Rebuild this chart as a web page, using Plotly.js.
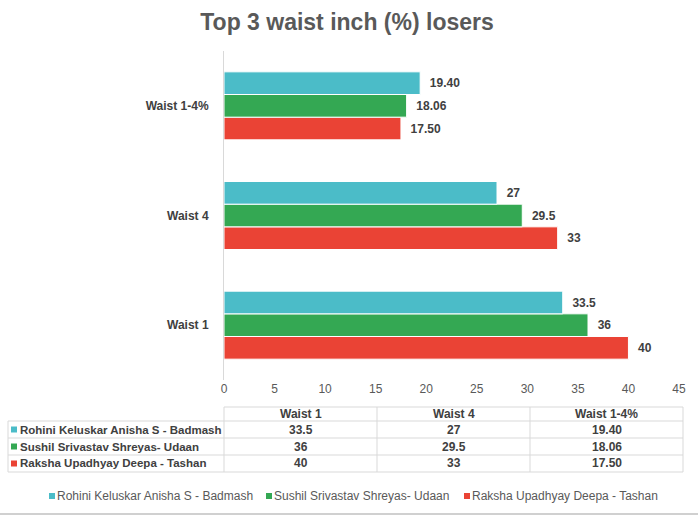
<!DOCTYPE html>
<html>
<head>
<meta charset="utf-8">
<script src="https://cdn.plot.ly/plotly-3.0.1.min.js"></script>
<style>html,body{margin:0;padding:0;background:#fff;}#chart{width:698px;height:517px;}</style>
</head>
<body>
<div id="chart"></div>
<script>
// ---- data ----
var categories = ['Waist 1', 'Waist 4', 'Waist 1-4%'];
var seriesNames = ['Rohini Keluskar Anisha S - Badmash', 'Sushil Srivastav Shreyas- Udaan', 'Raksha Upadhyay Deepa - Tashan'];
var rohini = [33.5, 27, 19.40];
var sushil = [36, 29.5, 18.06];
var raksha = [40, 33, 17.50];
var rohiniLabels = ['33.5', '27', '19.40'];
var sushilLabels = ['36', '29.5', '18.06'];
var rakshaLabels = ['40', '33', '17.50'];
var xTicks = [0, 5, 10, 15, 20, 25, 30, 35, 40, 45];

// ---- styles ----
var colors = ['#4BBCC8', '#34A853', '#EA4335'];
var FONT = 'Liberation Sans, Arial, sans-serif';
var W = 698, H = 517;
var L = 224, R = 19, T = 51, B = 137;
var pw = W - L - R, ph = H - T - B;
function px(x) { return (x - L) / pw; }
function py(y) { return (H - B - y) / ph; }

var values = [rohini, sushil, raksha];
var labels = [rohiniLabels, sushilLabels, rakshaLabels];

// traces: first trace drawn at the bottom of each group -> reverse order
var traces = [];
for (var i = 2; i >= 0; i--) {
  traces.push({
    type: 'bar', orientation: 'h',
    name: seriesNames[i],
    y: categories, x: values[i],
    text: labels[i].map(function (s) { return '\u00a0\u00a0' + s; }),
    textposition: 'outside',
    textfont: { family: FONT, size: 12, color: '#404040', weight: 'bold' },
    cliponaxis: false,
    marker: { color: colors[i], line: { color: '#ffffff', width: 1 } },
    showlegend: false,
    hoverinfo: 'x+name'
  });
}

var shapes = [];
var annotations = [];

// table geometry (pixels)
var colEdges = [224, 377, 530, 683];
var rowEdges = [407, 421, 438, 455, 472];
var tableLeft = 8;
var lineColor = '#d9d9d9';
function hline(x0, x1, y) {
  shapes.push({ type: 'line', xref: 'paper', yref: 'paper', x0: px(x0), x1: px(x1), y0: py(y), y1: py(y), line: { color: lineColor, width: 1 } });
}
function vline(x, y0, y1) {
  shapes.push({ type: 'line', xref: 'paper', yref: 'paper', x0: px(x), x1: px(x), y0: py(y0), y1: py(y1), line: { color: lineColor, width: 1 } });
}
hline(colEdges[0], colEdges[3], rowEdges[0]);
for (var r = 1; r < rowEdges.length; r++) hline(tableLeft, colEdges[3], rowEdges[r]);
vline(tableLeft, rowEdges[1], rowEdges[4]);
for (var c = 0; c < colEdges.length; c++) vline(colEdges[c], rowEdges[0], rowEdges[4]);

// header
for (var c = 0; c < categories.length; c++) {
  annotations.push({
    xref: 'paper', yref: 'paper', x: px((colEdges[c] + colEdges[c + 1]) / 2), y: py((rowEdges[0] + rowEdges[1]) / 2),
    text: categories[c], showarrow: false, xanchor: 'center', yanchor: 'middle',
    font: { family: FONT, size: 12, color: '#404040', weight: 'bold' }
  });
}
// rows
for (var s = 0; s < 3; s++) {
  var yc = (rowEdges[s + 1] + rowEdges[s + 2]) / 2;
  shapes.push({ type: 'rect', xref: 'paper', yref: 'paper', x0: px(11), x1: px(17), y0: py(yc - 3), y1: py(yc + 3), fillcolor: colors[s], line: { width: 0 } });
  annotations.push({
    xref: 'paper', yref: 'paper', x: px(18), y: py(yc),
    text: seriesNames[s], showarrow: false, xanchor: 'left', yanchor: 'middle',
    font: { family: FONT, size: 11.5, color: '#404040', weight: 'bold' }
  });
  for (var c = 0; c < categories.length; c++) {
    annotations.push({
      xref: 'paper', yref: 'paper', x: px((colEdges[c] + colEdges[c + 1]) / 2), y: py(yc),
      text: labels[s][c], showarrow: false, xanchor: 'center', yanchor: 'middle',
      font: { family: FONT, size: 12, color: '#404040', weight: 'bold' }
    });
  }
}

// legend (manual, Excel style)
var legendX = [49, 266, 464];
var legendY = 496;
for (var s = 0; s < 3; s++) {
  shapes.push({ type: 'rect', xref: 'paper', yref: 'paper', x0: px(legendX[s]), x1: px(legendX[s] + 6), y0: py(legendY - 3), y1: py(legendY + 3), fillcolor: colors[s], line: { width: 0 } });
  annotations.push({
    xref: 'paper', yref: 'paper', x: px(legendX[s] + 6), y: py(legendY),
    text: seriesNames[s], showarrow: false, xanchor: 'left', yanchor: 'middle',
    font: { family: FONT, size: 12, color: '#595959' }
  });
}

// bottom frame line
shapes.push({ type: 'line', xref: 'paper', yref: 'paper', x0: px(0), x1: px(W), y0: py(514), y1: py(514), line: { color: '#d0d0d0', width: 2 } });

var layout = {
  width: W, height: H,
  margin: { l: L, r: R, t: T, b: B, pad: 0 },
  paper_bgcolor: '#ffffff', plot_bgcolor: '#ffffff',
  font: { family: FONT, color: '#595959' },
  title: {
    text: 'Top 3 waist inch (%) losers',
    font: { family: FONT, size: 23, color: '#595959', weight: 'bold' },
    x: 347 / W, xref: 'container', xanchor: 'center', y: 1 - 22 / H, yref: 'container', yanchor: 'middle'
  },
  barmode: 'group', bargap: 0.38, bargroupgap: 0,
  xaxis: {
    range: [0, 45], tickvals: xTicks, ticktext: xTicks.map(String),
    showgrid: false, zeroline: false, showline: false, ticks: '',
    tickfont: { family: FONT, size: 12, color: '#595959' }, fixedrange: true
  },
  yaxis: {
    type: 'category', categoryorder: 'array', categoryarray: categories,
    range: [-0.5, 2.5],
    showgrid: false, zeroline: false, showline: true, linecolor: '#d9d9d9', linewidth: 1,
    ticks: '', ticklabelstandoff: 12,
    tickfont: { family: FONT, size: 12, color: '#404040', weight: 'bold' }, fixedrange: true
  },
  shapes: shapes,
  annotations: annotations,
  showlegend: false
};

Plotly.newPlot('chart', traces, layout, { displayModeBar: false, staticPlot: true });
</script>
</body>
</html>
